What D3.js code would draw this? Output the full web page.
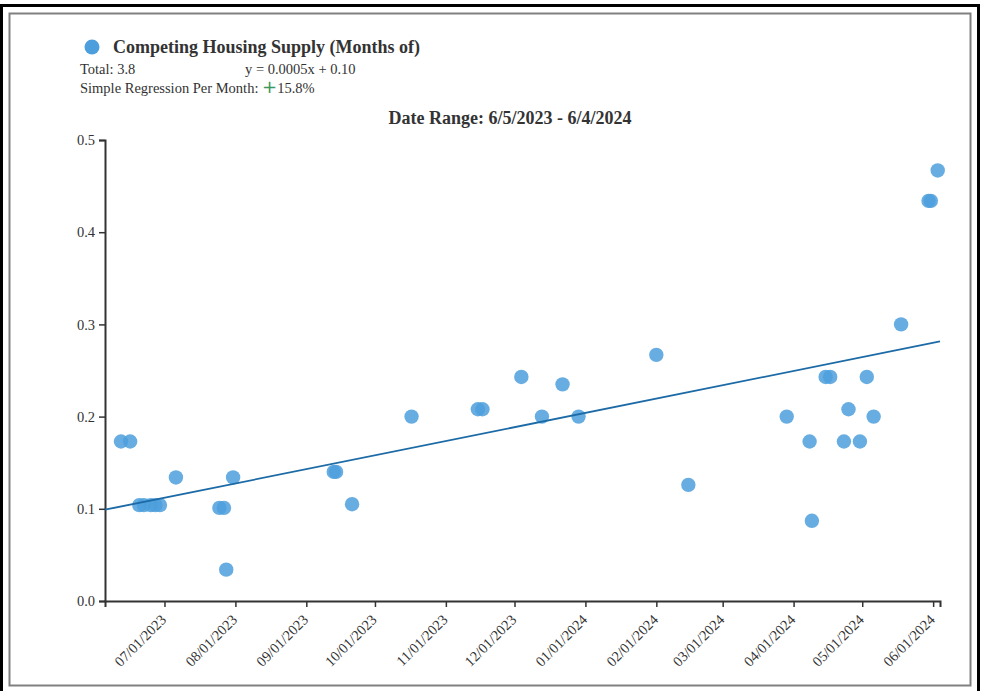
<!DOCTYPE html>
<html>
<head>
<meta charset="utf-8">
<script src="https://cdn.jsdelivr.net/npm/d3@7/dist/d3.min.js"></script>
<style>
  html, body { margin: 0; padding: 0; background: #fff; }
  svg { display: block; }
  text { font-family: "Liberation Serif", "Times New Roman", serif; }
</style>
</head>
<body>
<svg id="chart" width="981" height="691"></svg>
<script>
// Observation dates (YYYY-MM-DD) and months of competing housing supply
const dates = [
  "2023-06-12", "2023-06-16", "2023-06-20", "2023-06-22", "2023-06-25",
  "2023-06-27", "2023-06-29", "2023-07-06", "2023-07-25", "2023-07-27",
  "2023-07-28", "2023-07-31", "2023-09-13", "2023-09-14", "2023-09-21",
  "2023-10-17", "2023-11-15", "2023-11-17", "2023-12-04", "2023-12-13",
  "2023-12-22", "2023-12-29", "2024-02-01", "2024-02-15", "2024-03-29",
  "2024-04-08", "2024-04-09", "2024-04-15", "2024-04-17", "2024-04-23",
  "2024-04-25", "2024-04-30", "2024-05-03", "2024-05-06", "2024-05-18",
  "2024-05-30", "2024-05-31", "2024-06-03"
];
const supply = [
  0.173, 0.173, 0.104, 0.104, 0.104,
  0.104, 0.104, 0.134, 0.101, 0.101,
  0.034, 0.134, 0.140, 0.140, 0.105,
  0.200, 0.208, 0.208, 0.243, 0.200,
  0.235, 0.200, 0.267, 0.126, 0.200,
  0.173, 0.087, 0.243, 0.243, 0.173,
  0.208, 0.173, 0.243, 0.200, 0.300,
  0.434, 0.434, 0.467
];

// Date range shown on the x axis
const rangeStart = "2023-06-05";
const rangeEnd = "2024-06-04";

// Month ticks along the x axis
const monthTicks = [
  "2023-07-01", "2023-08-01", "2023-09-01", "2023-10-01", "2023-11-01",
  "2023-12-01", "2024-01-01", "2024-02-01", "2024-03-01", "2024-04-01",
  "2024-05-01", "2024-06-01"
];
const yTicks = [0, 0.1, 0.2, 0.3, 0.4, 0.5];

// Simple regression: value = slope * (days since range start) + intercept
const regSlope = 0.0005;
const regIntercept = 0.099;
const totalValue = 3.8;
const perMonthChange = 15.8;

const seriesName = "Competing Housing Supply (Months of)";
const dotColor = "#4c9fdc";
const lineColor = "#1c6aa6";
const textColor = "#333";
const serif = "'Liberation Serif', 'Times New Roman', serif";

const parse = d3.timeParse("%Y-%m-%d");
const fmtTick = d3.timeFormat("%m/%d/%Y");
const fmtRange = d => `${d.getMonth() + 1}/${d.getDate()}/${d.getFullYear()}`;

const svg = d3.select("#chart");

// Frames
svg.append("rect")
  .attr("x", 1.5).attr("y", 5.5).attr("width", 977).attr("height", 700)
  .attr("fill", "none").attr("stroke", "#000").attr("stroke-width", 3);
svg.append("rect")
  .attr("x", 9.5).attr("y", 13.5).attr("width", 961).attr("height", 672)
  .attr("fill", "none").attr("stroke", "#808080").attr("stroke-width", 2);

const plot = { left: 105, right: 940, top: 140, bottom: 601 };

const t0 = parse(rangeStart), t1 = parse(rangeEnd);
const x = d3.scaleTime().domain([t0, t1]).range([plot.left, plot.right]);
const y = d3.scaleLinear().domain([0, 0.5]).range([plot.bottom, plot.top]);

const points = dates.map((d, i) => ({ date: parse(d), value: supply[i] }));

// Axes
const xAxis = svg.append("g")
  .attr("transform", `translate(0,${plot.bottom})`)
  .call(d3.axisBottom(x).tickValues(monthTicks.map(parse)).tickFormat(fmtTick).tickSizeOuter(0).tickSize(6));
xAxis.selectAll("text")
  .attr("font-size", 14.5)
  .attr("fill", textColor)
  .attr("text-anchor", "end")
  .attr("dx", "-0.85em")
  .attr("dy", "0.45em")
  .attr("transform", "rotate(-45)");

const yAxis = svg.append("g")
  .attr("transform", `translate(${plot.left},0)`)
  .call(d3.axisLeft(y).tickValues(yTicks).tickFormat(d3.format(".1f")).tickSizeOuter(0).tickSize(6));
yAxis.selectAll("text").attr("font-size", 14.5).attr("fill", textColor).attr("dx", "-1px");

[xAxis, yAxis].forEach(g => {
  g.attr("font-family", serif);
  g.select(".domain").attr("stroke", "#333").attr("stroke-width", 2);
  g.selectAll(".tick line").attr("stroke", "#333").attr("stroke-width", 1.5);
});

// Points
svg.append("g").selectAll("circle")
  .data(points)
  .join("circle")
  .attr("cx", d => x(d.date))
  .attr("cy", d => y(d.value))
  .attr("r", 7.2)
  .attr("fill", dotColor)
  .attr("fill-opacity", 0.85);

// Regression line across the date range
const dayMs = 864e5;
const regAt = t => regSlope * ((t - t0) / dayMs) + regIntercept;
svg.append("path")
  .datum([t0, t1])
  .attr("d", d3.line().x(d => x(d)).y(d => y(regAt(d))))
  .attr("stroke", lineColor)
  .attr("stroke-width", 1.8)
  .attr("fill", "none");

// Legend and summary
svg.append("circle")
  .attr("cx", 92).attr("cy", 47).attr("r", 7.5)
  .attr("fill", dotColor);
svg.append("text")
  .attr("x", 113).attr("y", 53)
  .attr("font-size", 18).attr("font-weight", "bold").attr("fill", textColor)
  .text(seriesName);
svg.append("text")
  .attr("x", 80).attr("y", 74)
  .attr("font-size", 14.5).attr("fill", textColor)
  .text(`Total: ${totalValue}`);
svg.append("text")
  .attr("x", 245).attr("y", 74)
  .attr("font-size", 14.5).attr("fill", textColor)
  .text(`y = ${d3.format(".4f")(regSlope)}x + ${d3.format(".2f")(regIntercept)}`);
const reg = svg.append("text")
  .attr("x", 80).attr("y", 93)
  .attr("font-size", 14.5).attr("fill", textColor);
reg.append("tspan").text("Simple Regression Per Month: ");
reg.append("tspan").attr("fill", "#3a9a5c").attr("font-size", 18).attr("font-family", "DejaVu Sans").text("+");
reg.append("tspan").text(`${perMonthChange}%`);

// Title
svg.append("text")
  .attr("x", 510).attr("y", 124)
  .attr("text-anchor", "middle")
  .attr("font-size", 18).attr("font-weight", "bold").attr("fill", textColor)
  .text(`Date Range: ${fmtRange(t0)} - ${fmtRange(t1)}`);
</script>
</body>
</html>
